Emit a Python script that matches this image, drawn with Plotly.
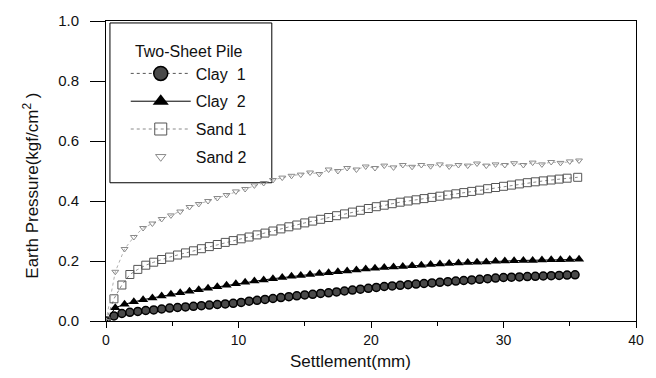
import plotly.graph_objects as go

# Settlement (mm) readings for each test series
clay1_x = [0.0, 0.6, 1.2, 1.8, 2.4, 3.0, 3.6, 4.2, 4.8, 5.4, 6.0, 6.6, 7.2, 7.8, 8.4, 9.0, 9.6, 10.2, 10.8, 11.4,
           12.0, 12.6, 13.2, 13.8, 14.4, 15.0, 15.6, 16.2, 16.8, 17.4, 18.0, 18.6, 19.2, 19.8, 20.4, 21.0, 21.6, 22.2, 22.8, 23.4,
           24.0, 24.6, 25.2, 25.8, 26.4, 27.0, 27.6, 28.2, 28.8, 29.4, 30.0, 30.6, 31.2, 31.8, 32.4, 33.0, 33.6, 34.2, 34.8, 35.4]
clay1_y = [0.0, 0.017, 0.025, 0.029, 0.032, 0.035, 0.037, 0.040, 0.043, 0.045, 0.047, 0.049, 0.051, 0.053, 0.055, 0.057, 0.059, 0.062, 0.066, 0.069,
           0.072, 0.075, 0.078, 0.081, 0.084, 0.087, 0.089, 0.092, 0.094, 0.097, 0.100, 0.103, 0.106, 0.109, 0.112, 0.115, 0.117, 0.119, 0.121, 0.123,
           0.125, 0.127, 0.129, 0.131, 0.133, 0.135, 0.137, 0.139, 0.141, 0.143, 0.145, 0.146, 0.147, 0.148, 0.149, 0.150, 0.151, 0.152, 0.153, 0.154]

clay2_x = [0.0, 0.7, 1.4, 2.1, 2.8, 3.5, 4.2, 4.9, 5.6, 6.3, 7.0, 7.7, 8.4, 9.1, 9.8, 10.5, 11.2, 11.9, 12.6, 13.3,
           14.0, 14.7, 15.4, 16.1, 16.8, 17.5, 18.2, 18.9, 19.6, 20.3, 21.0, 21.7, 22.4, 23.1, 23.8, 24.5, 25.2, 25.9, 26.6, 27.3,
           28.0, 28.7, 29.4, 30.1, 30.8, 31.5, 32.2, 32.9, 33.6, 34.3, 35.0, 35.7]
clay2_y = [0.0, 0.044, 0.056, 0.064, 0.071, 0.077, 0.083, 0.089, 0.094, 0.099, 0.104, 0.109, 0.114, 0.119, 0.124, 0.129, 0.133, 0.137, 0.141, 0.145,
           0.149, 0.152, 0.155, 0.158, 0.161, 0.164, 0.167, 0.170, 0.173, 0.176, 0.178, 0.180, 0.182, 0.184, 0.186, 0.188, 0.190, 0.192, 0.193, 0.195,
           0.196, 0.197, 0.199, 0.200, 0.201, 0.202, 0.202, 0.203, 0.204, 0.204, 0.205, 0.206]

sand1_x = [0.0, 0.6, 1.2, 1.8, 2.4, 3.0, 3.6, 4.2, 4.8, 5.4, 6.0, 6.6, 7.2, 7.8, 8.4, 9.0, 9.6, 10.2, 10.8, 11.4,
           12.0, 12.6, 13.2, 13.8, 14.4, 15.0, 15.6, 16.2, 16.8, 17.4, 18.0, 18.6, 19.2, 19.8, 20.4, 21.0, 21.6, 22.2, 22.8, 23.4,
           24.0, 24.6, 25.2, 25.8, 26.4, 27.0, 27.6, 28.2, 28.8, 29.4, 30.0, 30.6, 31.2, 31.8, 32.4, 33.0, 33.6, 34.2, 34.8, 35.6]
sand1_y = [0.0, 0.074, 0.120, 0.155, 0.172, 0.186, 0.196, 0.205, 0.213, 0.220, 0.227, 0.234, 0.241, 0.248, 0.255, 0.262, 0.268, 0.274, 0.280, 0.287,
           0.293, 0.300, 0.307, 0.314, 0.320, 0.327, 0.333, 0.339, 0.345, 0.351, 0.357, 0.363, 0.369, 0.375, 0.381, 0.386, 0.391, 0.396, 0.400, 0.404,
           0.408, 0.412, 0.416, 0.420, 0.424, 0.428, 0.432, 0.436, 0.441, 0.445, 0.449, 0.453, 0.457, 0.461, 0.464, 0.467, 0.470, 0.473, 0.476, 0.479]

sand2_x = [0.0, 0.7, 1.4, 2.1, 2.8, 3.5, 4.2, 4.9, 5.6, 6.3, 7.0, 7.7, 8.4, 9.1, 9.8, 10.5, 11.2, 11.9, 12.6, 13.3,
           14.0, 14.7, 15.4, 16.1, 16.8, 17.5, 18.2, 18.9, 19.6, 20.3, 21.0, 21.7, 22.4, 23.1, 23.8, 24.5, 25.2, 25.9, 26.6, 27.3,
           28.0, 28.7, 29.4, 30.1, 30.8, 31.5, 32.2, 32.9, 33.6, 34.3, 35.0, 35.7]
sand2_y = [0.0, 0.164, 0.240, 0.280, 0.310, 0.325, 0.340, 0.352, 0.365, 0.380, 0.390, 0.400, 0.410, 0.420, 0.432, 0.440, 0.452, 0.460, 0.470, 0.478,
           0.484, 0.488, 0.495, 0.490, 0.505, 0.500, 0.510, 0.505, 0.515, 0.510, 0.518, 0.512, 0.520, 0.514, 0.520, 0.516, 0.522, 0.515, 0.520, 0.518,
           0.525, 0.518, 0.522, 0.520, 0.526, 0.520, 0.528, 0.522, 0.530, 0.527, 0.532, 0.535]

series_names = ["Clay  1", "Clay  2", "Sand 1", "Sand 2"]
x_ticks = [0, 10, 20, 30, 40]
x_minor = [5, 15, 25, 35]
y_ticks = [0.0, 0.2, 0.4, 0.6, 0.8, 1.0]

FONT = "Arial, Liberation Sans, sans-serif"
INK = "#111111"

# plot-area geometry in pixels
W, H = 656, 378
L, R, T, B = 106, 13, 15, 57
PW, PH = W - L - R, H - T - B


def px_x(p):
    return (p - L) / PW


def px_y(p):
    return (H - B - p) / PH


styles = [
    dict(line=dict(color="#555555", width=1, dash="dot"),
         marker=dict(symbol="circle", color="#4a4a4a", line=dict(color="#000000", width=1.5))),
    dict(line=dict(color="#000000", width=1),
         marker=dict(symbol="triangle-up", color="#000000", line=dict(width=0))),
    dict(line=dict(color="#8a8a8a", width=1, dash="dot"),
         marker=dict(symbol="square-open", color="#555555", line=dict(width=1))),
    dict(line=dict(color="#b0b0b0", width=1, dash="dot"),
         marker=dict(symbol="triangle-down-open", color="#8a8a8a", line=dict(width=1))),
]
data_sizes = [8, 9, 8, 6]
legend_sizes = [14, 14, 12, 9]
data = [(clay1_x, clay1_y), (clay2_x, clay2_y), (sand1_x, sand1_y), (sand2_x, sand2_y)]

fig = go.Figure()

for name, (xs, ys), st, ds in zip(series_names, data, styles, data_sizes):
    mk = dict(st["marker"], size=ds)
    fig.add_trace(go.Scatter(x=xs, y=ys, name=name, mode="lines+markers",
                             line=st["line"], marker=mk, showlegend=False))

# legend entries with larger symbols
for i, (name, st, ls) in enumerate(zip(series_names, styles, legend_sizes)):
    mk = dict(st["marker"], size=ls)
    mode = "markers" if i == 3 else "lines+markers"
    fig.add_trace(go.Scatter(x=[None], y=[None], name=name, mode=mode,
                             line=st["line"], marker=mk, legendgroup=f"g{i}",
                             showlegend=True))

# legend frame
fig.add_shape(type="rect", xref="paper", yref="paper",
              x0=px_x(110), x1=px_x(274), y0=px_y(180), y1=px_y(17),
              line=dict(color="#000000", width=1), fillcolor="white", layer="below")

fig.update_layout(
    width=W, height=H,
    margin=dict(l=L, r=R, t=T, b=B),
    paper_bgcolor="white", plot_bgcolor="white",
    font=dict(family=FONT, size=15, color=INK),
    showlegend=True,
    legend=dict(
        x=px_x(126), y=px_y(30), xanchor="left", yanchor="top",
        bgcolor="rgba(0,0,0,0)", borderwidth=0,
        title=dict(text="Two-Sheet Pile", side="top center",
                   font=dict(size=16, family=FONT, color=INK)),
        font=dict(size=16, family=FONT, color=INK),
        itemwidth=60, traceorder="grouped", tracegroupgap=4,
    ),
    annotations=[
        dict(text="Settlement(mm)", xref="paper", yref="paper",
             x=px_x(354), y=px_y(362), xanchor="center", yanchor="middle",
             showarrow=False, font=dict(size=17, family=FONT, color=INK)),
        dict(text="Earth Pressure(kgf/cm<sup>2</sup> )", xref="paper", yref="paper",
             x=px_x(30), y=px_y(183), xanchor="center", yanchor="middle", textangle=-90,
             showarrow=False, font=dict(size=17, family=FONT, color=INK)),
    ],
)

fig.update_xaxes(
    range=[0, 40], tickvals=x_ticks, ticktext=[str(v) for v in x_ticks],
    showgrid=False, zeroline=False,
    showline=True, linecolor="#000000", linewidth=1, mirror=True,
    ticks="outside", ticklen=6, tickcolor="#000000",
    minor=dict(tickvals=x_minor, ticks="outside", ticklen=4, tickcolor="#000000"),
    tickfont=dict(size=14),
)
fig.update_yaxes(
    range=[0, 1.0], tickvals=y_ticks, ticktext=[f"{v:.1f}" for v in y_ticks],
    showgrid=False, zeroline=False,
    showline=True, linecolor="#000000", linewidth=1, mirror=True,
    ticks="outside", ticklen=15, tickcolor="#000000",
    ticklabelstandoff=8,
    tickfont=dict(size=15),
)

fig.write_html("out.html")
